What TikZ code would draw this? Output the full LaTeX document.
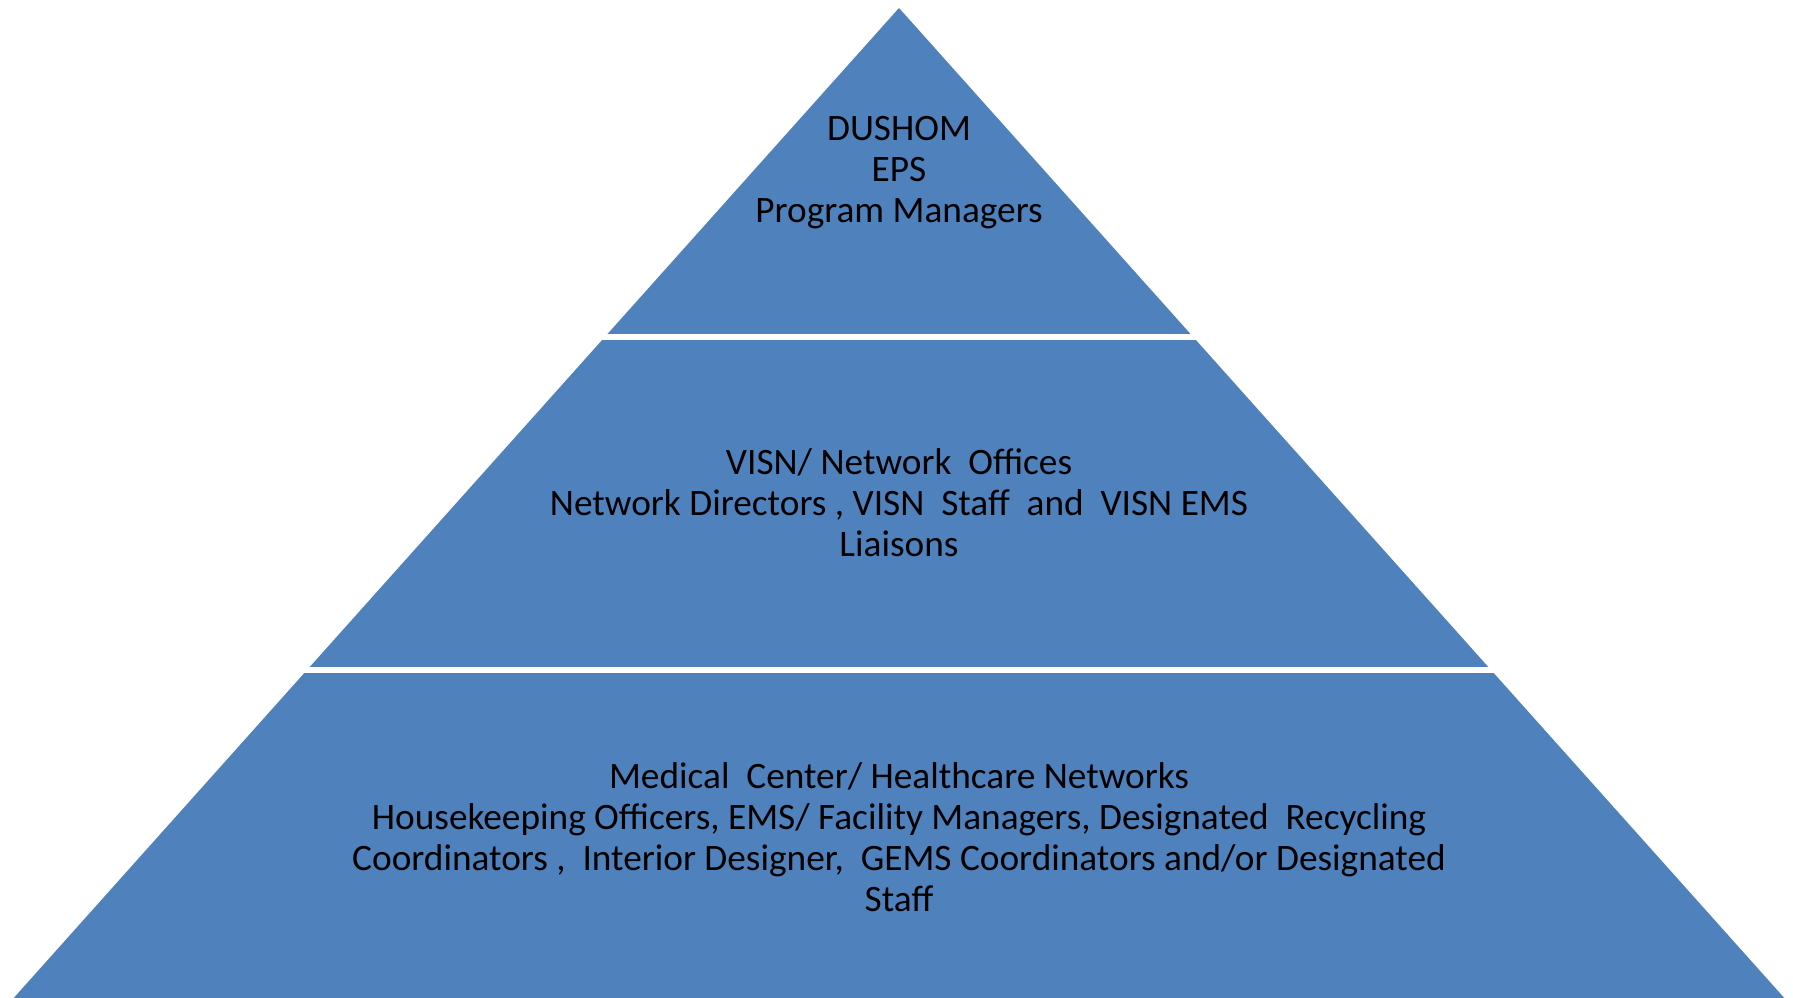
\documentclass[tikz,border=0pt]{standalone}
\usepackage{fontspec}
\setmainfont{Carlito}
\definecolor{tierblue}{HTML}{4F81BD}
\begin{document}
\begin{tikzpicture}[x=1pt,y=-1pt,
  tiertext/.style={align=center,text=black,font=\fontsize{37.3}{41}\selectfont,inner sep=0pt},
  gapline/.style={draw=white,line width=5.5pt}]
\useasboundingbox (0,0) rectangle (1793,998);
\coordinate (apex) at (899,8);
\coordinate (bl) at (13.7,998);
\coordinate (br) at (1784.3,998);
\fill[tierblue] (apex) -- (br) -- (bl) -- cycle;
\coordinate (g1l) at (560,337);
\coordinate (g1r) at (1240,337);
\coordinate (g2l) at (260,670);
\coordinate (g2r) at (1540,670);
\draw[gapline] (g1l) -- (g1r);
\draw[gapline] (g2l) -- (g2r);
\node[tiertext] (top) at (899,173) {DUSHOM\\EPS\\Program Managers};
\node[tiertext] (mid) at (899,503) {VISN/ Network\ \ Offices\\Network Directors , VISN\ \ Staff\ \ and\ \ VISN EMS\\Liaisons};
\node[tiertext] (bot) at (899,837) {Medical\ \ Center/ Healthcare Networks\\Housekeeping Officers, EMS/ Facility Managers, Designated\ \ Recycling\\Coordinators ,\ \ Interior Designer,\ \ GEMS Coordinators and/or Designated\\Staff};
\end{tikzpicture}
\end{document}
